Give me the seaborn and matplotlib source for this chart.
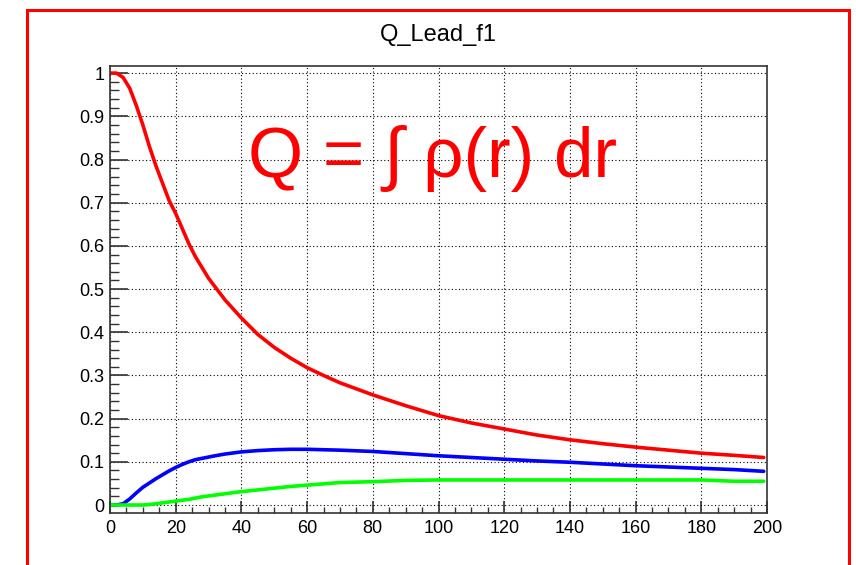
import numpy as np
import pandas as pd
import matplotlib
matplotlib.use("Agg")
import matplotlib.pyplot as plt
from matplotlib.patches import Rectangle
from matplotlib.ticker import FixedLocator, MultipleLocator
import seaborn as sns

# ---- data ----
r_values = [0, 2, 4, 6, 8, 10, 12, 14, 16, 18, 20, 22, 24, 26, 28, 30, 32, 35,
            40, 45, 50, 55, 60, 65, 70, 80, 90, 100, 110, 120, 130, 140, 150,
            160, 170, 180, 190, 199]
q_red = [1.0, 1.0, 0.99, 0.965, 0.925, 0.88, 0.83, 0.785, 0.745, 0.705, 0.675,
         0.64, 0.605, 0.575, 0.55, 0.525, 0.505, 0.475, 0.433, 0.395, 0.365,
         0.34, 0.318, 0.30, 0.283, 0.255, 0.23, 0.207, 0.19, 0.176, 0.162,
         0.151, 0.142, 0.134, 0.127, 0.120, 0.115, 0.110]
q_blue = [0.0, 0.0, 0.003, 0.014, 0.028, 0.041, 0.051, 0.061, 0.070, 0.079,
          0.087, 0.094, 0.100, 0.105, 0.108, 0.111, 0.114, 0.118, 0.123, 0.126,
          0.128, 0.129, 0.129, 0.128, 0.127, 0.124, 0.119, 0.114, 0.110, 0.106,
          0.102, 0.099, 0.095, 0.091, 0.088, 0.085, 0.082, 0.078]
q_green = [0.0, 0.0, 0.0, 0.0, 0.0, 0.0, 0.001, 0.003, 0.005, 0.007, 0.009,
           0.011, 0.013, 0.016, 0.019, 0.021, 0.023, 0.026, 0.031, 0.035, 0.039,
           0.043, 0.046, 0.049, 0.052, 0.054, 0.057, 0.058, 0.058, 0.058, 0.058,
           0.058, 0.058, 0.058, 0.058, 0.058, 0.055, 0.055]
series_names = ["red", "blue", "green"]
series_colors = {"red": "#ff0000", "blue": "#0000ff", "green": "#00ff00"}
x_ticks = [0, 20, 40, 60, 80, 100, 120, 140, 160, 180, 200]
x_tick_labels = ["0", "20", "40", "60", "80", "100", "120", "140", "160", "180", "200"]
y_ticks = [0, 0.1, 0.2, 0.3, 0.4, 0.5, 0.6, 0.7, 0.8, 0.9, 1.0]
y_tick_labels = ["0", "0.1", "0.2", "0.3", "0.4", "0.5", "0.6", "0.7", "0.8", "0.9", "1"]
title_text = "Q_Lead_f1"
formula_text = "Q = \u222b \u03c1(r) dr"

df = pd.DataFrame({
    "r": r_values * 3,
    "Q": q_red + q_blue + q_green,
    "series": [s for s in series_names for _ in r_values],
})

sns.set_style("white")
plt.rcParams["font.family"] = ["Liberation Sans", "DejaVu Sans"]
plt.rcParams["text.color"] = "black"
plt.rcParams["xtick.color"] = "#333333"
plt.rcParams["ytick.color"] = "#333333"
plt.rcParams["xtick.labelcolor"] = "black"
plt.rcParams["ytick.labelcolor"] = "black"

fig = plt.figure(figsize=(8.56, 5.65), dpi=100)
ax = fig.add_axes([110 / 856, 1 - 513 / 565, (767 - 110) / 856, (513 - 66) / 565])

sns.lineplot(data=df, x="r", y="Q", hue="series", palette=series_colors,
             hue_order=series_names, linewidth=2.6, legend=False, ax=ax,
             sort=False, estimator=None)

ax.set_xlim(0, 200)
ax.set_ylim(-0.0185, 1.0165)
ax.set_xlabel("")
ax.set_ylabel("")

ax.xaxis.set_major_locator(FixedLocator(x_ticks))
ax.set_xticklabels(x_tick_labels)
ax.yaxis.set_major_locator(FixedLocator(y_ticks))
ax.set_yticklabels(y_tick_labels)
ax.xaxis.set_minor_locator(MultipleLocator(5))
ax.yaxis.set_minor_locator(MultipleLocator(0.02))

ax.tick_params(which="both", left=True, bottom=True, top=False, right=False)
ax.tick_params(axis="y", which="major", direction="in", length=13, width=1.2,
               colors="#333333", labelcolor="black", labelsize=13, pad=4)
ax.tick_params(axis="y", which="minor", direction="in", length=6.5, width=1.0,
               colors="#333333")
ax.tick_params(axis="x", which="major", direction="in", length=9, width=1.2,
               colors="#333333", labelcolor="black", labelsize=13, pad=5)
ax.tick_params(axis="x", which="minor", direction="in", length=4.5, width=1.0,
               colors="#333333")

ax.grid(True, which="major", color="black", linestyle=(0, (1, 2.2)), linewidth=0.8)
ax.grid(False, which="minor")
for sp in ax.spines.values():
    sp.set_color("#333333")
    sp.set_linewidth(1.2)

ax.text(42, 0.759, formula_text, color="red", fontsize=51, va="baseline",
        ha="left", family=["Liberation Sans", "DejaVu Sans"])

fig.text(438.5 / 856, 1 - 41 / 565, title_text, ha="center", va="baseline",
         fontsize=17, color="black")

frame = Rectangle((27 / 856, -0.1), (849 - 27) / 856, 1 - 10 / 565 + 0.1,
                  transform=fig.transFigure, fill=False, edgecolor="#ff0000",
                  linewidth=2.2, clip_on=False)
fig.patches.append(frame)

fig.savefig("out.png", dpi=100)
